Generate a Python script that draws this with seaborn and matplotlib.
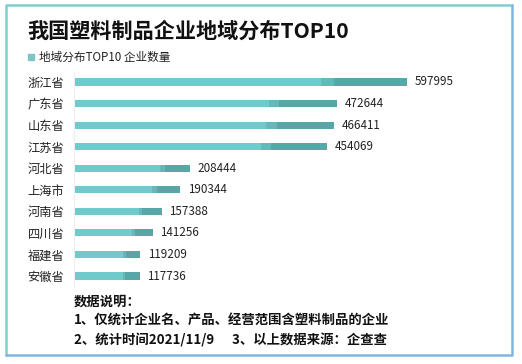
import numpy as np
import pandas as pd
import matplotlib
matplotlib.use("Agg")
import matplotlib.pyplot as plt
import seaborn as sns
from matplotlib.lines import Line2D
from matplotlib.patches import Rectangle

provinces = ["浙江省", "广东省", "山东省", "江苏省", "河北省",
             "上海市", "河南省", "四川省", "福建省", "安徽省"]
counts = [597995, 472644, 466411, 454069, 208444,
          190344, 157388, 141256, 119209, 117736]

title = "我国塑料制品企业地域分布TOP10"
legend_label = "地域分布TOP10 企业数量"
notes = ["数据说明：",
         "1、仅统计企业名、产品、经营范围含塑料制品的企业",
         "2、统计时间2021/11/9      3、以上数据来源：企查查"]

light = "#6fcacb"
mid = "#64b8b9"
dark = "#59a6a6"

sns.set_theme(style="white")
plt.rcParams["font.family"] = ["Noto Sans CJK SC", "DejaVu Sans"]

df = pd.DataFrame({"province": provinces, "count": counts})
df["light_part"] = df["count"] * 0.74
df["mid_part"] = df["count"] * 0.78

fig = plt.figure(figsize=(5.22, 3.64), dpi=100)
ax = fig.add_axes([74 / 522, 1 - 286.8 / 364, 390 / 522, (286.8 - 71.2) / 364])

# dark tail first, then lighter sections on top to fake the gradient
for col, c in [("count", dark), ("mid_part", mid), ("light_part", light)]:
    sns.barplot(data=df, x=col, y="province", color=c, width=0.33,
                saturation=1, ax=ax, orient="h", linewidth=0, edgecolor=c)

for i, v in enumerate(df["count"]):
    ax.text(v + 14000, i, str(v), va="center", ha="left", fontsize=8.4,
            color="#222222")

ax.set_xlim(0, 700000)
ax.set_xlabel("")
ax.set_ylabel("")
ax.set_xticks([])
ax.tick_params(axis="y", length=0, pad=7, labelsize=8.8, labelcolor="#222222")
for side in ["top", "right", "bottom"]:
    ax.spines[side].set_visible(False)
ax.spines["left"].set_color("#eeeeee")
ax.spines["left"].set_linewidth(0.8)

fig.text(27 / 522, 1 - 31 / 364, title, fontsize=15.2, fontweight="bold",
         va="center", ha="left", color="#111111")
fig.patches.append(Rectangle((28 / 522, 1 - 60 / 364), 6 / 522, 6 / 364,
                             transform=fig.transFigure, color="#7cc5c8"))
fig.text(39 / 522, 1 - 57 / 364, legend_label, fontsize=8.4, va="center",
         ha="left", color="#222222")

for line, y in zip(notes, [302, 321, 340]):
    fig.text(74 / 522, 1 - y / 364, line, fontsize=9.6, fontweight="bold",
             va="center", ha="left", color="#111111")

# frame around the card
fig.lines.append(Line2D([6 / 522, 6 / 522, 512 / 522], [1 - 355 / 364, 1 - 5 / 364, 1 - 5 / 364],
                        transform=fig.transFigure, color="#7fcfd0", lw=1.8))
fig.lines.append(Line2D([6 / 522, 512 / 522, 512 / 522], [1 - 355 / 364, 1 - 355 / 364, 1 - 5 / 364],
                        transform=fig.transFigure, color="#80b6de", lw=1.8))

fig.savefig("out.png", dpi=100)
